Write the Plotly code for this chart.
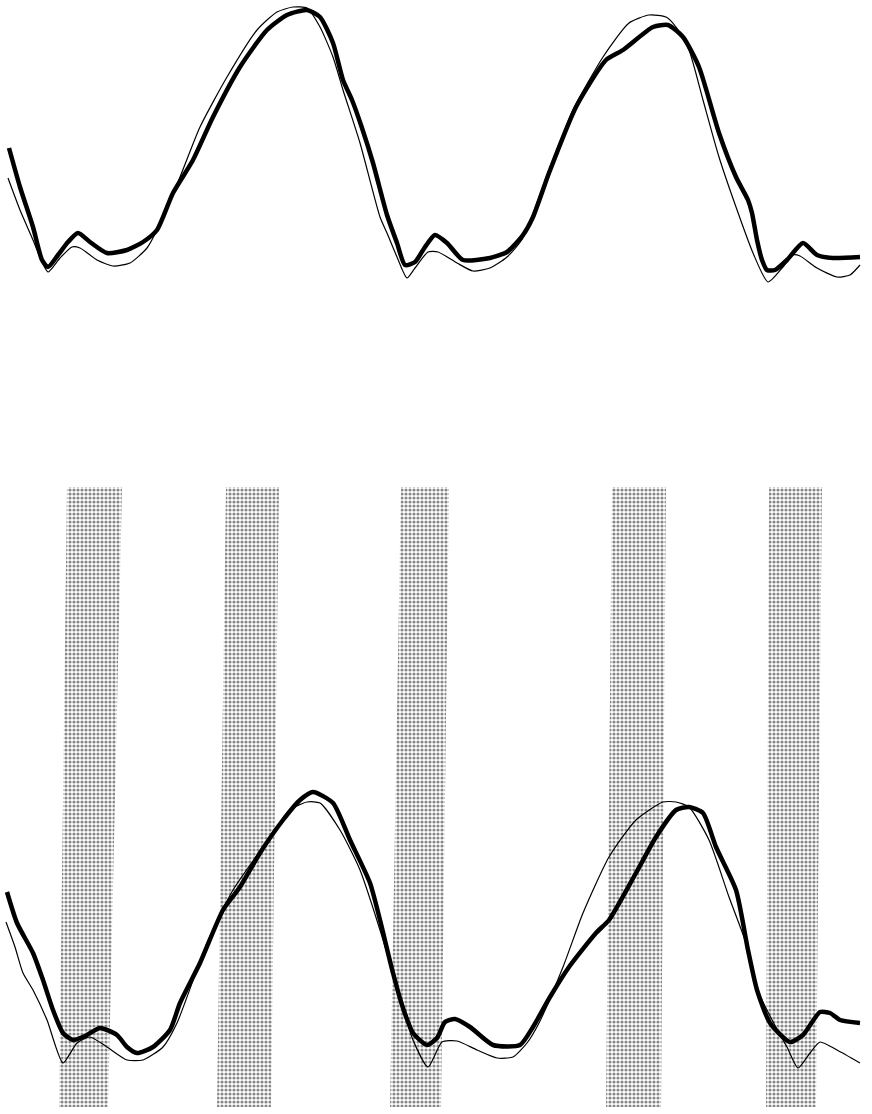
import plotly.graph_objects as go

# ---------------- upper trace pair (amplitude, arbitrary units) ----------------
top_thick_x = [9, 20, 33, 42, 48, 58, 68, 78, 90, 107, 127, 143, 157, 173, 193, 213, 240, 267, 287, 307,
               320, 333, 343, 352, 362, 373, 387, 397, 405, 415, 425, 435, 447, 463, 490, 507, 523, 533, 549, 576, 606,
               623, 653, 668, 683, 699, 719, 736, 748, 752, 757, 762, 767, 775, 787, 803, 817, 833, 860]
top_thick_y = [152, 113, 73, 40, 33, 45, 58, 67, 58, 47, 50, 58, 70, 107, 140, 183, 233, 270, 285, 290,
               283, 257, 220, 200, 172, 137, 85, 57, 35, 38, 53, 65, 57, 40, 42, 48, 65, 83, 127, 193, 240,
               250, 273, 275, 263, 233, 167, 123, 100, 87, 60, 40, 30, 30, 40, 57, 45, 42, 43]

top_thin_x = [8, 20, 33, 42, 48, 60, 72, 80, 97, 113, 130, 147, 157, 180, 200, 227, 257, 277, 293, 307,
              320, 333, 343, 360, 380, 387, 397, 407, 415, 428, 438, 457, 473, 490, 507, 523, 549, 573, 603, 629,
              649, 666, 676, 689, 703, 719, 736, 753, 768, 783, 793, 800, 817, 837, 850, 860]
top_thin_y = [122, 90, 60, 38, 28, 42, 53, 52, 40, 34, 37, 52, 70, 123, 173, 223, 270, 288, 293, 292,
              273, 243, 210, 157, 83, 67, 43, 22, 32, 48, 48, 37, 29, 32, 43, 62, 130, 190, 243, 277,
              285, 283, 273, 250, 200, 143, 93, 47, 18, 33, 45, 44, 32, 23, 25, 35]

# ---------------- lower trace pair ----------------
bot_thick_x = [7, 17, 33, 43, 53, 63, 73, 87, 100, 117, 127, 137, 153, 170, 180, 200, 223, 240, 260, 283,
               300, 313, 333, 350, 370, 380, 393, 403, 413, 427, 437, 445, 455, 470, 493, 520, 533, 550, 569, 596,
               609, 636, 656, 676, 689, 703, 716, 736, 748, 757, 770, 790, 803, 820, 830, 840, 860]
bot_thick_y = [218, 187, 157, 130, 100, 77, 70, 75, 82, 75, 63, 57, 63, 80, 107, 147, 200, 223, 257, 290,
               310, 318, 307, 270, 227, 190, 137, 102, 77, 65, 72, 88, 91, 83, 65, 65, 83, 113, 143, 177,
               190, 237, 273, 300, 303, 297, 263, 220, 160, 120, 87, 68, 75, 98, 97, 90, 87]

bot_thin_x = [6, 15, 23, 33, 47, 63, 77, 90, 107, 127, 143, 163, 177, 207, 233, 263, 290, 307, 320, 340,
              360, 380, 400, 413, 428, 442, 457, 477, 497, 513, 527, 539, 563, 583, 609, 636, 663, 676, 689, 709,
              729, 746, 759, 779, 787, 798, 810, 820, 837, 860]
bot_thin_y = [188, 163, 137, 120, 90, 47, 67, 73, 63, 50, 50, 63, 87, 167, 220, 263, 300, 308, 307, 280,
              240, 180, 113, 70, 43, 68, 69, 60, 52, 53, 67, 87, 143, 197, 253, 290, 308, 308, 303, 270,
              213, 167, 117, 77, 63, 42, 57, 68, 60, 47]

# ---------------- shaded intervals in the lower panel ----------------
band_left_top = [67, 226, 401, 612, 769]
band_right_top = [122, 279, 449, 666, 822]
band_left_bottom = [59, 217, 390, 606, 766]
band_right_bottom = [108, 271, 441, 661, 816]
band_upper = 623
band_lower = 3

W, H = 872, 1114
fig = go.Figure()

# stippled bands
for lt, rt, lb, rb in zip(band_left_top, band_right_top, band_left_bottom, band_right_bottom):
    fig.add_trace(go.Scatter(
        x=[lb, lt, rt, rb, lb], y=[band_lower, band_upper, band_upper, band_lower, band_lower],
        mode="lines", fill="toself", line=dict(width=0, color="rgba(0,0,0,0)"),
        fillcolor="white",
        fillpattern=dict(shape=".", size=4, solidity=0.5, fgcolor="#111111", bgcolor="white"),
        xaxis="x", yaxis="y2", hoverinfo="skip", showlegend=False))

def add_pair(tx, ty, nx, ny, yaxis):
    fig.add_trace(go.Scatter(x=nx, y=ny, mode="lines", xaxis="x", yaxis=yaxis,
                             line=dict(color="black", width=1.2, shape="spline", smoothing=0.6),
                             showlegend=False))
    fig.add_trace(go.Scatter(x=tx, y=ty, mode="lines", xaxis="x", yaxis=yaxis,
                             line=dict(color="black", width=4.5, shape="spline", smoothing=0.6),
                             showlegend=False))

add_pair(top_thick_x, top_thick_y, top_thin_x, top_thin_y, "y")
add_pair(bot_thick_x, bot_thick_y, bot_thin_x, bot_thin_y, "y2")

hidden = dict(visible=False, showgrid=False, zeroline=False, fixedrange=True)
fig.update_layout(
    width=W, height=H, margin=dict(l=0, r=0, t=0, b=0),
    paper_bgcolor="white", plot_bgcolor="white",
    xaxis=dict(range=[0, W], domain=[0, 1], **hidden),
    yaxis=dict(range=[0, 300], domain=[1 - 300 / H, 1], **hidden),
    yaxis2=dict(range=[-4, 626], domain=[0, 630 / H], **hidden),
)

fig.write_html("out.html")
